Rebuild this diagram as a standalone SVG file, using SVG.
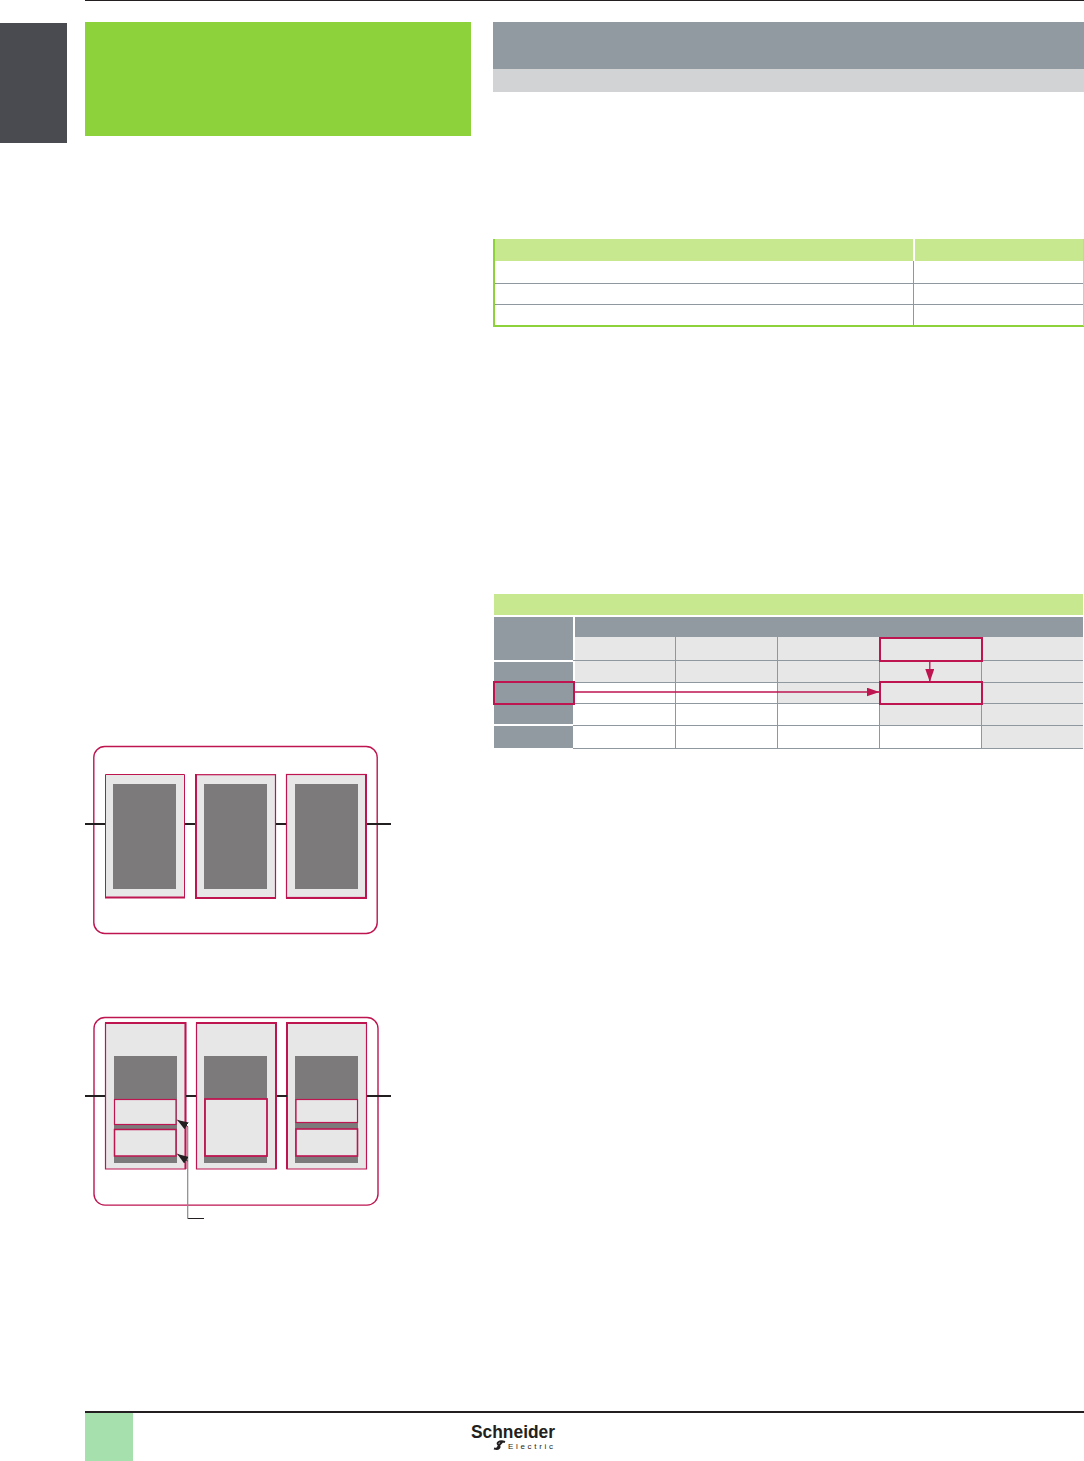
<svg xmlns="http://www.w3.org/2000/svg" width="1084" height="1461" viewBox="0 0 1084 1461">
<style>
.red{fill:none;stroke:#BE1550}
.panel{fill:#E7E7E8}
.core{fill:#7C7A7B}
.wire{stroke:#231F20;stroke-width:2;fill:none}
.grid{stroke:#8F989F;stroke-width:1;fill:none}
.slate{fill:#929AA1}
.lime{fill:#C7E88F}
.logo{font-family:"Liberation Sans",Arial,sans-serif;fill:#231F20}
</style>
<defs>
<marker id="redhead" markerUnits="userSpaceOnUse" markerWidth="13" markerHeight="9" refX="13" refY="4.5" orient="auto"><path d="M0 0L13 4.5L0 9Z" fill="#BE1550"/></marker>
<marker id="blackhead" markerUnits="userSpaceOnUse" markerWidth="11" markerHeight="8" refX="11" refY="4" orient="auto"><path d="M0 0L11 4L0 8Z" fill="#231F20"/></marker>
</defs>
<rect width="1084" height="1461" fill="#fff"/>
<g id="page-frame">
<rect x="85" y="0" width="999" height="1" fill="#231F20"/>
<rect x="0" y="23" width="67" height="120" fill="#4A4B50"/>
<rect x="85" y="22" width="386" height="114" fill="#8DD23B"/>
<rect x="493" y="22" width="591" height="47" fill="#929AA1"/>
<rect x="493" y="69" width="591" height="23" fill="#D1D3D5"/>
<rect x="85" y="1411" width="999" height="2" fill="#231F20"/>
<rect x="85" y="1413" width="48" height="48" fill="#A6E0AC"/>
</g>
<g id="table-1">
<rect class="lime" x="495" y="239" width="418" height="22"/>
<rect class="lime" x="915" y="239" width="169" height="22"/>
<path class="grid" d="M495 283.5H1084M495 304.5H1084M913.5 261V325"/>
<path d="M494 239V326H1084" fill="none" stroke="#8DD23B" stroke-width="2"/>
<path d="M1083.5 239V326" fill="none" stroke="#B9E07F" stroke-width="1"/>
</g>
<g id="table-2">
<rect class="lime" x="494" y="594" width="589" height="21"/>
<rect class="slate" x="494" y="617" width="79" height="43"/>
<rect class="slate" x="494" y="662" width="79" height="20"/>
<rect class="slate" x="494" y="682" width="79" height="22"/>
<rect class="slate" x="494" y="704" width="79" height="20"/>
<rect class="slate" x="494" y="726" width="79" height="22"/>
<rect class="slate" x="575" y="617" width="508" height="20"/>
<rect class="panel" x="575" y="637" width="508" height="45"/>
<rect class="panel" x="777" y="682" width="306" height="21"/>
<rect class="panel" x="879" y="703" width="204" height="22"/>
<rect class="panel" x="982" y="725" width="101" height="23"/>
<path class="grid" d="M573 660.5H1083M573 682.5H1083M573 703.5H1083M573 725.5H1083M573 748.5H1083M675.5 637V748M777.5 637V748M879.5 637V748M981.5 637V748"/>
</g>
<g id="selection-boxes">
<rect class="red" stroke-width="2" x="880" y="638" width="102" height="23"/>
<rect class="red" stroke-width="2" x="880" y="682" width="102" height="22"/>
<rect class="red" stroke-width="2" x="494" y="682" width="80" height="22"/>
</g>
<g id="zone-a">
<rect class="red" stroke-width="1.4" x="93.8" y="746.5" width="283.4" height="187" rx="11"/>
</g>
<g id="a1"><rect class="panel" x="105.5" y="774.5" width="79" height="123.5"/><rect class="core" x="113" y="784" width="63" height="105"/><path class="red" stroke-width="1" d="M105.5 898V774.5H184.5V898"/><path class="red" stroke-width="2" d="M105 897.5H185"/></g>
<g id="a2"><rect class="panel" x="196" y="774.5" width="79.5" height="123.5"/><rect class="core" x="204" y="784" width="63" height="105"/><rect class="red" stroke-width="1.2" x="196" y="774.7" width="79.5" height="123"/><path class="red" stroke-width="2" d="M196 774V898H276"/></g>
<g id="a3"><rect class="panel" x="286.5" y="774.5" width="79.5" height="123.5"/><rect class="core" x="295" y="784" width="63" height="105"/><rect class="red" stroke-width="1.2" x="286.5" y="774.5" width="79.5" height="123"/><path class="red" stroke-width="2" d="M366 774V898H286"/></g>
<g id="zone-b">
<rect class="red" stroke-width="1.4" x="94" y="1017.5" width="284" height="187.6" rx="11"/>
</g>
<g id="b1"><rect class="panel" x="105.5" y="1023" width="80" height="146"/><rect class="core" x="114" y="1056" width="63" height="107"/><path class="red" stroke-width="1.2" d="M105.5 1169V1023H185.5V1169Z"/><path class="red" stroke-width="2" d="M105 1023H185.5V1169"/><rect class="panel" x="114.5" y="1099.5" width="61.5" height="25"/><rect class="red" stroke-width="1.2" x="114.5" y="1099.5" width="61.5" height="25"/><rect class="panel" x="114.5" y="1129.5" width="61.5" height="26.5"/><rect class="red" stroke-width="1.5" x="114.5" y="1129.5" width="61.5" height="26.5"/></g>
<g id="b2"><rect class="panel" x="196.5" y="1023" width="79.5" height="146"/><rect class="core" x="204" y="1056" width="63" height="107"/><path class="red" stroke-width="1.2" d="M196.5 1169V1023H276V1169Z"/><path class="red" stroke-width="2" d="M196 1023H276V1169"/><rect class="panel" x="205" y="1099" width="62" height="57"/><rect class="red" stroke-width="1.8" x="205" y="1099" width="62" height="57"/></g>
<g id="b3"><rect class="panel" x="287" y="1023" width="79.5" height="146"/><rect class="core" x="295" y="1056" width="63" height="107"/><path class="red" stroke-width="1.2" d="M287 1169V1023H366.5V1169Z"/><path class="red" stroke-width="2" d="M287 1169V1023H367"/><rect class="panel" x="296" y="1099.5" width="61.5" height="23"/><rect class="red" stroke-width="1.2" x="296" y="1099.5" width="61.5" height="23"/><rect class="panel" x="296" y="1129" width="61.5" height="27"/><rect class="red" stroke-width="1.6" x="296" y="1129" width="61.5" height="27"/></g>
<g id="connectors">
<path class="red" stroke-width="1.3" d="M574 692H879.5" marker-end="url(#redhead)"/>
<path class="red" stroke-width="1.3" d="M929.8 661V682" marker-end="url(#redhead)"/>
<path d="M85 824H105M185 824H195M276 824H286M367 824H391" class="wire"/>
<path d="M85 1096H105M186 1096H196M277 1096H287M367 1096H391" class="wire"/>
<path d="M204 1218.5H187.7" stroke="#231F20" stroke-width="1" fill="none"/>
<path d="M187.7 1218.5V1126.5" stroke="#8A8A8C" stroke-width="1.2" fill="none"/>
<path d="M187.7 1126.5L177.3 1120" stroke="#231F20" stroke-width="1" fill="none" marker-end="url(#blackhead)"/>
<path d="M187.7 1161L177.3 1154" stroke="#231F20" stroke-width="1" fill="none" marker-end="url(#blackhead)"/>
</g>
<g id="logo">
<text class="logo" x="471" y="1438" font-size="18" font-weight="700" textLength="84" lengthAdjust="spacingAndGlyphs">Schneider</text>
<text class="logo" x="508" y="1449" font-size="8" textLength="45">Electric</text>
<path d="M505 1442C499 1440 496 1443 498.500 1445C501 1447 499 1450 494 1448.500M497 1448.500C499 1445 501 1443 503 1441" fill="none" stroke="#231F20" stroke-width="2"/>
</g>
</svg>
